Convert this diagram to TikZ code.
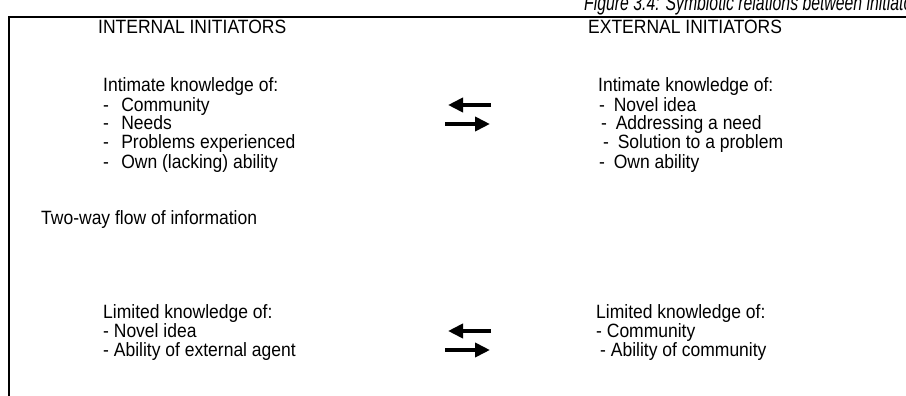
\documentclass[tikz,border=0pt]{standalone}
\usepackage{fontspec}
\usepackage{graphicx}
\setmainfont{Liberation Sans}
\usetikzlibrary{arrows.meta}
\newcommand{\tallt}[1]{\scalebox{1}[1.1]{#1}}
\newcommand{\tallcap}[1]{\scalebox{1}[1.4]{#1}}
\begin{document}
\begin{tikzpicture}[x=1pt,y=-1pt,
  txt/.style={anchor=base west,inner sep=0pt,font=\fontsize{17.5}{20}\selectfont},
  captxt/.style={anchor=base west,inner sep=0pt,font=\itshape\fontsize{15.8}{18}\selectfont},
  frameline/.style={line width=1.6pt},
  flowarrow/.style={line width=4pt,-{Triangle[length=15pt,width=14pt]}}]
\useasboundingbox (0,0) rectangle (906,396);
% caption (cut by the page edge)
\node[captxt] (caption) at (584,10.5) {\tallcap{Figure 3.4: Symbiotic relations between initiators}};
% frame lines
\coordinate (tl) at (9,17);
\coordinate (tr) at (906,17);
\coordinate (bl) at (9,396);
\draw[frameline] (tr) -- (tl) -- (bl);
% headings
\node[txt] (inthead) at (98,34) {\tallt{INTERNAL INITIATORS}};
\node[txt] (exthead) at (588,34) {\tallt{EXTERNAL INITIATORS}};
% left top block
\node[txt] (l1) at (103,92) {\tallt{Intimate knowledge of:}};
\node[txt] (l2) at (103,111) {\tallt{-\hspace{0.7em}Community}};
\node[txt] (l3) at (103,130) {\tallt{-\hspace{0.7em}Needs}};
\node[txt] (l4) at (103,149) {\tallt{-\hspace{0.7em}Problems experienced}};
\node[txt] (l5) at (103,168) {\tallt{-\hspace{0.7em}Own (lacking) ability}};
% right top block
\node[txt] (r1) at (598,92) {\tallt{Intimate knowledge of:}};
\node[txt] (r2) at (599,111) {\tallt{-\hspace{0.5em}Novel idea}};
\node[txt] (r3) at (601,130) {\tallt{-\hspace{0.5em}Addressing a need}};
\node[txt] (r4) at (603,149) {\tallt{-\hspace{0.5em}Solution to a problem}};
\node[txt] (r5) at (599,168) {\tallt{-\hspace{0.5em}Own ability}};
% middle
\node[txt] (flow) at (41,224) {\tallt{Two-way flow of information}};
% bottom left
\node[txt] (bl1) at (103,318) {\tallt{Limited knowledge of:}};
\node[txt] (bl2) at (103,337) {\tallt{- Novel idea}};
\node[txt] (bl3) at (103,356) {\tallt{- Ability of external agent}};
% bottom right
\node[txt] (br1) at (596,318) {\tallt{Limited knowledge of:}};
\node[txt] (br2) at (596,337) {\tallt{- Community}};
\node[txt] (br3) at (600,356) {\tallt{- Ability of community}};
% arrows
\coordinate (a1s) at (491,105); \coordinate (a1e) at (448,105);
\coordinate (a2s) at (445,124); \coordinate (a2e) at (490,124);
\coordinate (a3s) at (491,331); \coordinate (a3e) at (448,331);
\coordinate (a4s) at (445,350); \coordinate (a4e) at (490,350);
\draw[flowarrow] (a1s) -- (a1e);
\draw[flowarrow] (a2s) -- (a2e);
\draw[flowarrow] (a3s) -- (a3e);
\draw[flowarrow] (a4s) -- (a4e);
\end{tikzpicture}
\end{document}
